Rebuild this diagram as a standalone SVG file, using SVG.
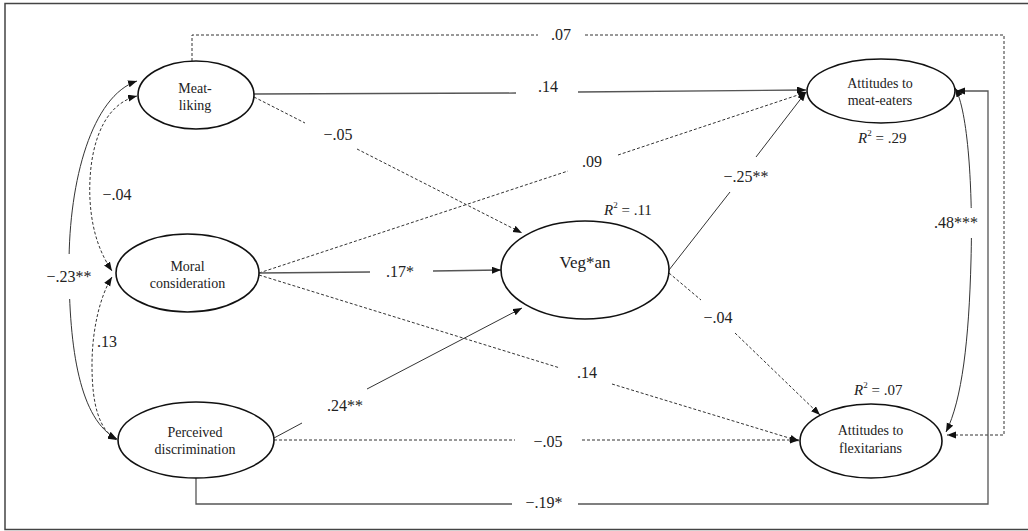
<svg xmlns="http://www.w3.org/2000/svg" width="1028" height="531" viewBox="0 0 1028 531">
<style>
text{font-family:Liberation Serif,DejaVu Serif,Times New Roman,serif;fill:#222}
.node ellipse{fill:#fff;stroke:#111;stroke-width:1.6}
.nt{font-size:14px;text-anchor:middle}
.big{font-size:17px;text-anchor:middle}
.lbl{font-size:16px;text-anchor:middle}
.r2{font-size:15px}
.s{fill:none;stroke:#333;stroke-width:1}
.d{fill:none;stroke:#333;stroke-width:1;stroke-dasharray:3 2}
.g{fill:none;stroke:#555;stroke-width:1.3}
</style>
<defs>
<marker id="ah" markerUnits="userSpaceOnUse" markerWidth="10" markerHeight="8" refX="9" refY="3.5" orient="auto-start-reverse">
<path d="M0,0 L9,3.5 L0,7 z" fill="#111"/>
</marker>
</defs>
<rect x="5" y="3.5" width="1030" height="526" fill="#fff" stroke="#444" stroke-width="1.5"/>
<g id="connectors">
<path class="d" d="M192,61 V35 H538"/>
<path class="d" d="M585,35 H1004 V435 H947" marker-end="url(#ah)"/>
<path class="g" d="M254,94 L516,93"/>
<path class="g" d="M578,92 L806,90" marker-end="url(#ah)"/>
<path class="d" d="M254,97 L305,123"/>
<path class="d" d="M357,149 L522,233" marker-end="url(#ah)"/>
<path class="d" d="M259,273 L568,171"/>
<path class="d" d="M618,155 L807,92" marker-end="url(#ah)"/>
<path class="g" d="M259,273 L370,272"/>
<path class="g" d="M433,271 L501,270" marker-end="url(#ah)"/>
<path class="d" d="M259,275 L560,368"/>
<path class="d" d="M612,384 L799,441" marker-end="url(#ah)"/>
<path class="s" d="M274,438 L302,423"/>
<path class="s" d="M367,389 L522,308" marker-end="url(#ah)"/>
<path class="d" d="M274,440 H515"/>
<path class="d" d="M582,440 H799" marker-end="url(#ah)"/>
<path class="g" d="M196,478 V504 H512"/>
<path class="g" d="M578,504 H988 V91 H956" marker-end="url(#ah)"/>
<path class="s" d="M669,270 L730,192"/>
<path class="s" d="M756,157 L806,92" marker-end="url(#ah)"/>
<path class="d" d="M669,273 L701,300"/>
<path class="d" d="M735,333 L820,415" marker-end="url(#ah)"/>
<path class="s" d="M955,88 C968,110 973,190 971,260 C969,340 962,400 946,432" marker-start="url(#ah)" marker-end="url(#ah)"/>
<path class="s" d="M137,81 C92,96 69,180 69,265 C69,350 80,420 117,439" marker-start="url(#ah)" marker-end="url(#ah)"/>
<path class="d" d="M137,96 C97,106 88,160 90,200 C92,235 102,256 112,271" marker-start="url(#ah)" marker-end="url(#ah)"/>
<path class="d" d="M112,277 C100,296 92,330 92,365 C92,405 99,430 117,440" marker-start="url(#ah)" marker-end="url(#ah)"/>
<rect x="934" y="208" width="46" height="30" fill="#fff"/>
<rect x="44" y="254" width="50" height="45" fill="#fff"/>
</g>
<g id="labels">
<text class="lbl" x="561" y="40">.07</text>
<text class="lbl" x="548" y="92">.14</text>
<text class="lbl" x="338" y="140">−.05</text>
<text class="lbl" x="592" y="167">.09</text>
<text class="lbl" x="400" y="277">.17*</text>
<text class="lbl" x="587" y="378">.14</text>
<text class="lbl" x="345" y="411">.24**</text>
<text class="lbl" x="548" y="447">−.05</text>
<text class="lbl" x="544" y="508">−.19*</text>
<text class="lbl" x="746" y="182">−.25**</text>
<text class="lbl" x="718" y="323">−.04</text>
<text class="lbl" x="956" y="228">.48***</text>
<text class="lbl" x="69" y="282">−.23**</text>
<text class="lbl" x="117" y="200">−.04</text>
<text class="lbl" x="107" y="347">.13</text>
<text class="r2" x="604" y="215"><tspan font-style="italic">R</tspan><tspan font-size="9" dy="-7">2</tspan><tspan dy="7"> = .11</tspan></text>
<text class="r2" x="858" y="143"><tspan font-style="italic">R</tspan><tspan font-size="9" dy="-7">2</tspan><tspan dy="7"> = .29</tspan></text>
<text class="r2" x="854" y="395"><tspan font-style="italic">R</tspan><tspan font-size="9" dy="-7">2</tspan><tspan dy="7"> = .07</tspan></text>
</g>
<g id="meat-liking" class="node">
<ellipse cx="196" cy="95" rx="58" ry="34"/>
<text class="nt" x="195" y="93">Meat-</text>
<text class="nt" x="195" y="110">liking</text>
</g>
<g id="moral-consideration" class="node">
<ellipse cx="187.5" cy="273" rx="71.5" ry="39"/>
<text class="nt" x="187.5" y="271">Moral</text>
<text class="nt" x="187.5" y="288">consideration</text>
</g>
<g id="perceived-discrimination" class="node">
<ellipse cx="196" cy="440" rx="78" ry="38"/>
<text class="nt" x="195" y="437">Perceived</text>
<text class="nt" x="195" y="454">discrimination</text>
</g>
<g id="vegan" class="node">
<ellipse cx="585" cy="270" rx="84" ry="49"/>
<text class="big" x="585" y="268">Veg*an</text>
</g>
<g id="attitudes-meat-eaters" class="node">
<ellipse cx="881" cy="91" rx="74" ry="32"/>
<text class="nt" x="880" y="88">Attitudes to</text>
<text class="nt" x="880" y="105">meat-eaters</text>
</g>
<g id="attitudes-flexitarians" class="node">
<ellipse cx="871" cy="441" rx="71" ry="37"/>
<text class="nt" x="870.5" y="435">Attitudes to</text>
<text class="nt" x="870.5" y="453">flexitarians</text>
</g>
</svg>
